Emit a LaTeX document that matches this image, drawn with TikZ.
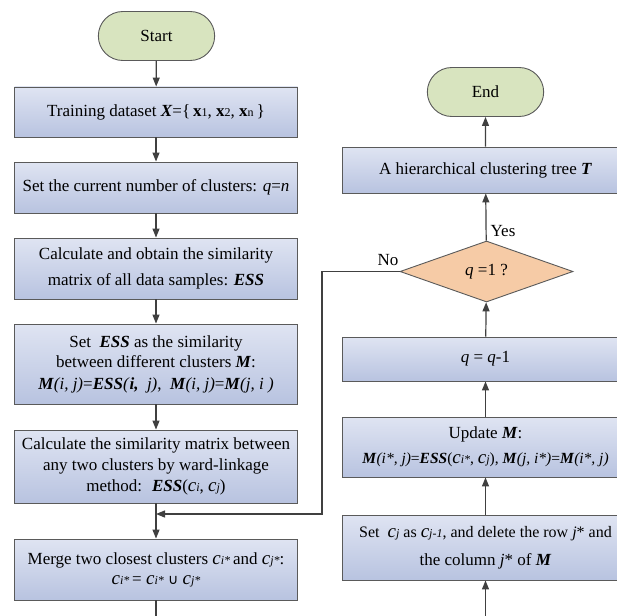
\documentclass[tikz,border=0pt]{standalone}
\usepackage{fontspec}
\setmainfont{Liberation Serif}
\newfontfamily\symfont{DejaVu Sans}
\usetikzlibrary{shapes.misc,shapes.geometric,arrows.meta}

\definecolor{boxtop}{HTML}{DFE4F2}
\definecolor{boxbot}{HTML}{B8C3E0}
\definecolor{termfill}{HTML}{D8E4BF}
\definecolor{decfill}{HTML}{F6CBA6}
\definecolor{edgegray}{HTML}{5A5A5A}
\definecolor{linegray}{HTML}{404040}

% bold italic and small index helpers
\newcommand{\bi}[1]{\textbf{\textit{#1}}}
\newcommand{\sm}[1]{{\fontsize{12}{12}\selectfont #1}}
\newcommand{\cl}[1]{{\fontsize{19}{19}\selectfont\textit{c}}\sm{\textit{#1}}}

\tikzset{
  procbox/.style={draw=edgegray, line width=0.9pt, top color=boxtop, bottom color=boxbot,
    rectangle, minimum width=283pt, align=center, inner sep=2pt},
  termnode/.style={draw=edgegray, line width=0.9pt, fill=termfill, rounded rectangle,
    minimum width=123pt, minimum height=49pt},
  decnode/.style={draw=edgegray, line width=0.9pt, fill=decfill, diamond, inner sep=0pt,
    minimum width=173pt, minimum height=61pt},
  flowline/.style={draw=linegray, line width=1.2pt},
  flowarrow/.style={flowline, -{Triangle[length=9pt,width=7pt]}}
}

\begin{document}
\begin{tikzpicture}[x=1pt,y=1pt,font=\fontsize{17}{21}\selectfont]
\useasboundingbox (0,0) rectangle (617,-615);
\clip (0,0) rectangle (617,-615);
\fill[white] (0,0) rectangle (617,-615);

% left column
\node[termnode] (start) at (156.5,-36) {Start};
\node[procbox, minimum height=50pt] (data) at (156,-112)
  {Training dataset \bi{X}={\LARGE\{}\,\textbf{x}\sm{1}, \textbf{x}\sm{2}, \textbf{x}\sm{n}\,{\LARGE\}}};
\node[procbox, minimum height=51pt] (setq) at (156,-187.5)
  {Set the current number of clusters: \textit{q}=\textit{n}};
\node[procbox, minimum height=61pt] (ess) at (156,-268.5)
  {Calculate and obtain the similarity\\[5pt] matrix of all data samples: \bi{ESS}};
\node[procbox, minimum height=80pt] (setm) at (156,-364)
  {Set \ \bi{ESS} as the similarity\\[-1pt] between different clusters \bi{M}:\\[1pt]
   \bi{M}\textit{(i, j)}=\bi{ESS}\textit{(}\bi{i,}\textit{ \ j)}, \ \bi{M}\textit{(i, j)}=\bi{M}\textit{(j, i )}};
\node[procbox, minimum height=73pt] (ward) at (156,-466.5)
  {Calculate the similarity matrix between\\ any two clusters by ward-linkage\\
   method: \ \bi{ESS}(\cl{i}, \cl{j})};
\node[procbox, minimum height=61pt] (merge) at (156,-569.5)
  {Merge two closest clusters \cl{i*}\,and \cl{j*}:\\[-1pt]
   \cl{i*}\,= \cl{i*} {\symfont\fontsize{14}{14}\selectfont ∪} \cl{j*}};

% right column
\node[termnode] (end) at (485.5,-92) {End};
\node[procbox, minimum width=287pt, minimum height=46pt] (tree) at (485.5,-170)
  {A hierarchical clustering tree \bi{T}};
\node[decnode] (dec) at (486.5,-271.5) {\textit{q} =1 ?};
\node[procbox, minimum width=287pt, minimum height=44pt] (qdec) at (485.5,-359)
  {\textit{q} = \textit{q}-1};
\node[procbox, minimum width=287pt, minimum height=60pt] (update) at (485.5,-447)
  {Update \bi{M}:\\[4pt]
   {\fontsize{15.5}{19}\selectfont\bi{M}\textit{(i*, j)}=\bi{ESS}(\cl{i*}, \cl{j}), \bi{M}\textit{(j, i*)}=\bi{M}\textit{(i*, j)}}};
\node[procbox, minimum width=287pt, minimum height=65pt] (shift) at (485.5,-547.5)
  {{\fontsize{16}{19}\selectfont Set \ \cl{j} as \cl{j-1}, and delete the row \textit{j}* and}\\[7pt]
   the column \textit{j}* of \bi{M}};

% labels
\node (nolbl) at (388,-260) {No};
\node (yeslbl) at (503,-231) {Yes};

% free ends and corners
\coordinate (lbot) at (156,-630);
\coordinate (rbot) at (485.5,-630);
\coordinate (nocorner) at (322,-271.5);
\coordinate (join) at (156,-514);

% connectors
\draw[flowarrow] (start) -- (data);
\draw[flowarrow] (data) -- (setq);
\draw[flowarrow] (setq) -- (ess);
\draw[flowarrow] (ess) -- (setm);
\draw[flowarrow] (setm) -- (ward);
\draw[flowarrow] (ward) -- (merge);
\draw[flowline] (merge) -- (lbot);
\draw[flowarrow] (rbot) -- (shift);
\draw[flowarrow] (shift) -- (update);
\draw[flowarrow] (update) -- (qdec);
\draw[flowarrow] (qdec) -- (dec);
\draw[flowarrow] (dec) -- (tree);
\draw[flowarrow] (tree) -- (end);
\draw[flowarrow] (dec.west) -- (nocorner) |- (join);
\end{tikzpicture}
\end{document}
